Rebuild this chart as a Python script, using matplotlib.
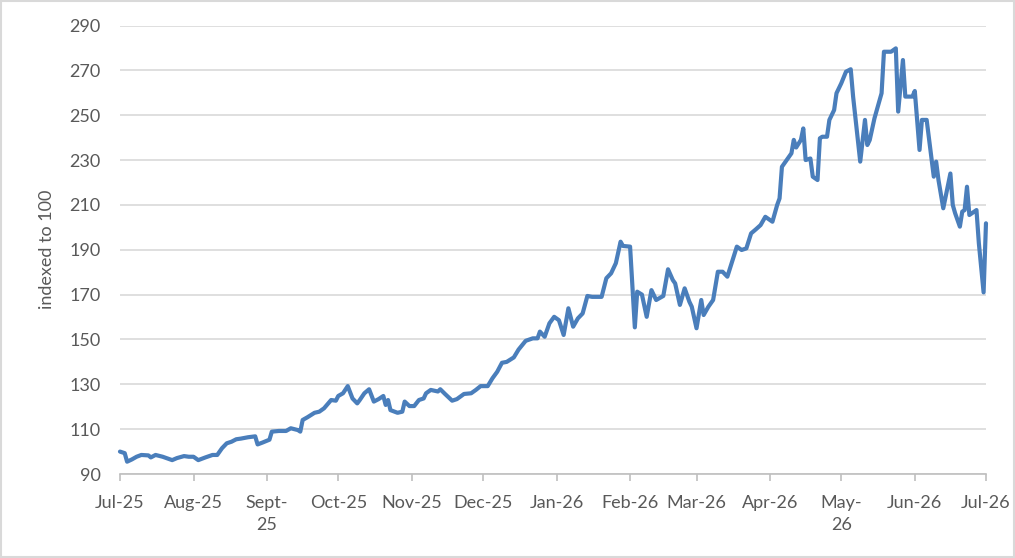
import matplotlib
matplotlib.use("Agg")
import matplotlib.pyplot as plt
import pandas as pd
from matplotlib.patches import Rectangle

# series: days after 1 Jul 2025 and index value
days = [0, 2, 3, 5, 7, 9, 12, 13, 15, 18, 22, 24, 27, 29, 31, 33, 36, 39, 41, 43,
        45, 47, 49, 51, 54, 57, 58, 60, 63, 64, 67, 70, 72, 75, 76, 77, 79, 82, 84, 86,
        89, 91, 92, 94, 96, 98, 100, 101, 103, 105, 107, 109, 111, 112, 113, 114, 117, 119, 120, 122,
        124, 126, 128, 129, 131, 134, 135, 137, 140, 142, 145, 148, 150, 152, 155, 157, 159, 161, 163, 166,
        168, 171, 174, 176, 177, 179, 181, 183, 185, 187, 189, 191, 193, 195, 197, 199, 203, 205, 207, 209,
        211, 212, 215, 217, 218, 220, 222, 224, 226, 229, 231, 233, 234, 236, 238, 240, 241, 243, 245, 246,
        248, 250, 252, 254, 256, 260, 262, 264, 266, 268, 270, 272, 275, 277, 278, 279, 281, 283, 284, 285,
        287, 288, 289, 291, 292, 294, 295, 296, 298, 299, 301, 302, 304, 306, 308, 309, 312, 314, 315, 316,
        318, 321, 322, 325, 327, 328, 330, 331, 334, 335, 337, 338, 340, 343, 344, 345, 347, 350, 351, 352,
        354, 355, 356, 357, 358, 361, 362, 364, 365]
values = [100.0, 99.3, 95.5, 96.5, 97.7, 98.5, 98.3, 97.4, 98.5, 97.7, 96.2, 97.1, 98.0, 97.7, 97.7, 96.2, 97.4, 98.5, 98.5, 101.5,
          103.7, 104.4, 105.5, 105.8, 106.4, 106.8, 103.2, 104.0, 105.3, 108.9, 109.2, 109.2, 110.4, 109.6, 108.9, 114.1, 115.3, 117.3, 117.8, 119.3,
          123.0, 122.7, 124.8, 126.0, 129.2, 123.7, 121.5, 122.9, 126.0, 127.8, 122.3, 123.4, 124.8, 120.8, 123.0, 118.5, 117.3, 117.8, 122.3, 120.3,
          120.3, 123.0, 123.7, 126.0, 127.5, 126.8, 127.8, 125.7, 122.7, 123.4, 125.7, 126.0, 127.5, 129.2, 129.2, 132.7, 135.6, 139.6, 140.0, 142.0,
          145.5, 149.4, 150.5, 150.5, 153.5, 151.2, 157.2, 160.1, 158.6, 152.0, 163.9, 155.7, 159.4, 161.6, 169.4, 169.0, 169.0, 177.3, 179.5, 184.0,
          193.6, 191.7, 191.4, 155.4, 171.3, 170.0, 160.1, 172.0, 167.6, 169.4, 181.3, 176.5, 175.0, 165.4, 172.8, 166.8, 164.6, 155.0, 167.6, 160.9,
          164.6, 167.6, 180.2, 180.2, 178.0, 191.4, 189.9, 190.6, 197.3, 199.1, 201.0, 204.7, 202.5, 210.0, 212.9, 227.0, 230.0, 233.0, 239.0, 235.6,
          239.0, 244.1, 230.0, 230.7, 222.6, 221.1, 239.7, 240.4, 240.4, 247.9, 252.3, 259.8, 264.2, 269.4, 270.5, 258.3, 229.3, 247.9, 236.7, 238.9,
          248.6, 259.8, 278.3, 278.3, 279.8, 251.6, 274.6, 258.3, 258.3, 260.8, 234.5, 247.9, 247.9, 222.6, 229.3, 221.0, 208.5, 224.0, 210.0, 206.3,
          200.3, 207.0, 207.7, 218.1, 205.5, 207.7, 192.9, 171.0, 201.8]

month_starts = ['2025-07-01', '2025-08-01', '2025-09-01', '2025-10-01', '2025-11-01', '2025-12-01',
                '2026-01-01', '2026-02-01', '2026-03-01', '2026-04-01', '2026-05-01', '2026-06-01', '2026-07-01']
month_labels = ['Jul-25', 'Aug-25', 'Sept-\n25', 'Oct-25', 'Nov-25', 'Dec-25',
                'Jan-26', 'Feb-26', 'Mar-26', 'Apr-26', 'May-\n26', 'Jun-26', 'Jul-26']
y_ticks = [90, 110, 130, 150, 170, 190, 210, 230, 250, 270, 290]

dates = pd.Timestamp('2025-07-01') + pd.to_timedelta(days, unit='D')
ticks = pd.to_datetime(month_starts)

plt.rcParams['font.family'] = ['Lato', 'DejaVu Sans']
grey_txt = '#595959'

fig = plt.figure(figsize=(10.15, 5.58), dpi=100)
fig.patches.append(Rectangle((0.001, 0.001), 0.998, 0.997, transform=fig.transFigure,
                             fill=False, edgecolor='#d9d9d9', linewidth=1.5))
ax = fig.add_axes([0.1182, 0.1505, 0.8532, 0.8038])

ax.plot(dates, values, color='#4A7EBB', linewidth=3.0, solid_joinstyle='round',
        solid_capstyle='round', zorder=3, clip_on=False)

ax.set_xlim(ticks[0], ticks[-1])
ax.set_ylim(90, 290)
ax.set_yticks(y_ticks)
ax.yaxis.grid(True, color='#d9d9d9', linewidth=1.2)
ax.set_axisbelow(True)

ax.set_xticks(ticks)
ax.set_xticklabels(month_labels, linespacing=1.45)

for s in ['top', 'right', 'left']:
    ax.spines[s].set_visible(False)
ax.spines['bottom'].set_color('#bfbfbf')
ax.spines['bottom'].set_linewidth(1.2)

ax.tick_params(axis='y', length=0, pad=14, labelsize=13, labelcolor=grey_txt)
ax.tick_params(axis='x', length=5, width=1.2, color='#bfbfbf', pad=10,
               labelsize=13, labelcolor=grey_txt)
ax.set_ylabel('indexed to 100', fontsize=13, color=grey_txt, labelpad=10)

fig.savefig('out.png', dpi=100)
